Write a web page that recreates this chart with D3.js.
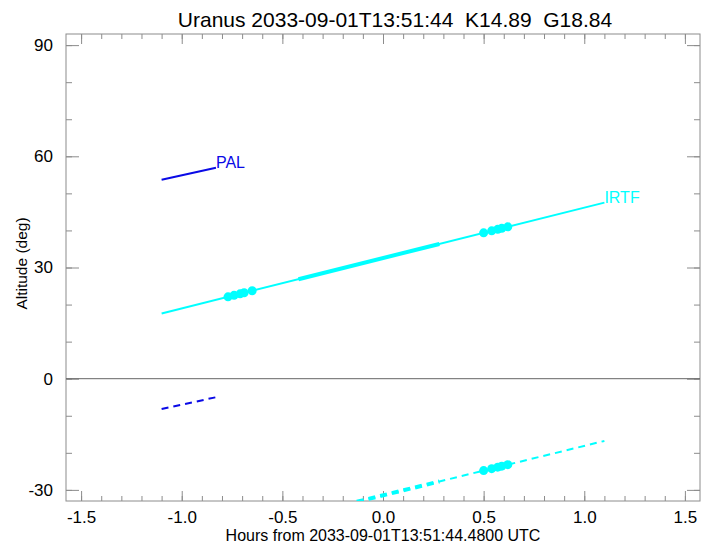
<!DOCTYPE html>
<html>
<head>
<meta charset="utf-8">
<script src="https://cdn.jsdelivr.net/npm/d3@7"></script>
<style>
  body { margin: 0; background: #fff; }
  svg { font-family: "Liberation Sans", Arial, sans-serif; }
</style>
</head>
<body>
<div id="chart"></div>
<script>
// data
const titleText = 'Uranus 2033-09-01T13:51:44  K14.89  G18.84';
const xLabel = 'Hours from 2033-09-01T13:51:44.4800 UTC';
const yLabel = 'Altitude (deg)';
const xTicks = [-1.5, -1.0, -0.5, 0.0, 0.5, 1.0, 1.5];
const yTicks = [-30, 0, 30, 60, 90];

const palHours = [-1.10, -0.83];
const palAlt = [53.7, 56.9];
const palDashAlt = [-8.2, -5.0];

const irtfHours = [-1.10, 1.10];
const irtfAlt = [17.6, 47.5];
const irtfDashHours = [-0.13, 1.10];
const irtfDashAlt = [-33.2, -16.8];
const irtfThick = [-0.42, 0.28];
const irtfDots = [-0.77, -0.74, -0.71, -0.69, -0.65, 0.50, 0.54, 0.57, 0.59, 0.62];

const margin = {top: 34, right: 10, bottom: 43, left: 66};
const width = 710 - margin.left - margin.right;
const height = 544 - margin.top - margin.bottom;
const axisColor = '#8c8c8c';

const svg = d3.select('#chart')
    .append('svg')
    .attr('width', 710)
    .attr('height', 544)
    .append('g')
    .attr('transform', `translate(${margin.left},${margin.top})`);

const x = d3.scaleLinear().domain([-1.575, 1.575]).range([0, width]);
const y = d3.scaleLinear().domain([-33, 93]).range([height, 0]);

svg.append('clipPath').attr('id', 'clip')
    .append('rect').attr('width', width).attr('height', height);

// Minor ticks
const xMinor = d3.range(-15, 16).map(d => d / 10);
const yMinor = d3.range(-30, 91, 10);

function styleAxis(g) {
    g.select('.domain').remove();
    g.selectAll('line').attr('stroke', axisColor);
    g.selectAll('text').attr('fill', '#000').style('font-size', '17px');
}

const fmtX = d => d.toFixed(1);
const fmtY = d => String(d);

svg.append('g').attr('transform', `translate(0,${height})`)
    .call(d3.axisBottom(x).tickValues(xMinor).tickSize(-5).tickFormat(''))
    .call(styleAxis);
svg.append('g')
    .call(d3.axisTop(x).tickValues(xMinor).tickSize(-5).tickFormat(''))
    .call(styleAxis);
svg.append('g').attr('transform', `translate(0,${height})`)
    .call(d3.axisBottom(x).tickValues(xTicks).tickSize(-10).tickPadding(10).tickFormat(fmtX))
    .call(styleAxis);
svg.append('g')
    .call(d3.axisTop(x).tickValues(xTicks).tickSize(-10).tickFormat(''))
    .call(styleAxis);

svg.append('g')
    .call(d3.axisLeft(y).tickValues(yMinor).tickSize(-6).tickFormat(''))
    .call(styleAxis);
svg.append('g').attr('transform', `translate(${width},0)`)
    .call(d3.axisRight(y).tickValues(yMinor).tickSize(-6).tickFormat(''))
    .call(styleAxis);
svg.append('g')
    .call(d3.axisLeft(y).tickValues(yTicks).tickSize(-13).tickPadding(13).tickFormat(fmtY))
    .call(styleAxis);
svg.append('g').attr('transform', `translate(${width},0)`)
    .call(d3.axisRight(y).tickValues(yTicks).tickSize(-13).tickFormat(''))
    .call(styleAxis);

// Frame
svg.append('rect')
    .attr('width', width).attr('height', height)
    .attr('fill', 'none').attr('stroke', axisColor).attr('stroke-width', 1);

// Zero line
svg.append('line')
    .attr('x1', 0).attr('x2', width)
    .attr('y1', y(0)).attr('y2', y(0))
    .attr('stroke', '#666').attr('stroke-width', 1);

const plot = svg.append('g').attr('clip-path', 'url(#clip)');
const line = d3.line().x(d => x(d[0])).y(d => y(d[1]));

// PAL
const palBlue = '#0a0ae6';
plot.append('path').datum(d3.zip(palHours, palAlt))
    .attr('d', line).attr('fill', 'none')
    .attr('stroke', palBlue).attr('stroke-width', 2);
plot.append('path').datum(d3.zip(palHours, palDashAlt))
    .attr('d', line).attr('fill', 'none')
    .attr('stroke', palBlue).attr('stroke-width', 2)
    .attr('stroke-dasharray', '7,5');

// IRTF
const cyan = '#00ffff';
const irtfAt = d3.scaleLinear().domain(irtfHours).range(irtfAlt);
const irtfDashAt = d3.scaleLinear().domain(irtfDashHours).range(irtfDashAlt);

plot.append('path').datum(d3.zip(irtfHours, irtfAlt))
    .attr('d', line).attr('fill', 'none')
    .attr('stroke', cyan).attr('stroke-width', 2);
plot.append('path').datum(irtfThick.map(h => [h, irtfAt(h)]))
    .attr('d', line).attr('fill', 'none')
    .attr('stroke', cyan).attr('stroke-width', 4);

plot.append('path').datum(d3.zip(irtfDashHours, irtfDashAlt))
    .attr('d', line).attr('fill', 'none')
    .attr('stroke', cyan).attr('stroke-width', 2)
    .attr('stroke-dasharray', '7,5');
plot.append('path').datum([irtfDashHours[0], irtfThick[1]].map(h => [h, irtfDashAt(h)]))
    .attr('d', line).attr('fill', 'none')
    .attr('stroke', cyan).attr('stroke-width', 4)
    .attr('stroke-dasharray', '7,5');

plot.selectAll('circle.solid')
    .data(irtfDots)
    .enter()
    .append('circle')
    .attr('cx', d => x(d))
    .attr('cy', d => y(irtfAt(d)))
    .attr('r', 4.5)
    .attr('fill', cyan);
plot.selectAll('circle.dash')
    .data(irtfDots.filter(d => d > 0))
    .enter()
    .append('circle')
    .attr('cx', d => x(d))
    .attr('cy', d => y(irtfDashAt(d)))
    .attr('r', 4.5)
    .attr('fill', cyan);

// Labels on lines
svg.append('text')
    .attr('x', x(palHours[1])).attr('y', y(palAlt[1]))
    .attr('fill', palBlue).style('font-size', '16px')
    .text('PAL');
svg.append('text')
    .attr('x', x(irtfHours[1])).attr('y', y(irtfAlt[1]))
    .attr('fill', cyan).style('font-size', '16px')
    .text('IRTF');

// Titles
svg.append('text')
    .attr('x', width / 2 + 12)
    .attr('y', -7)
    .attr('text-anchor', 'middle')
    .style('font-size', '21px')
    .style('white-space', 'pre')
    .text(titleText);

svg.append('text')
    .attr('x', width / 2)
    .attr('y', height + 40)
    .attr('text-anchor', 'middle')
    .style('font-size', '16px')
    .text(xLabel);

svg.append('text')
    .attr('transform', 'rotate(-90)')
    .attr('x', -(y(30) - 4))
    .attr('y', -39)
    .attr('text-anchor', 'middle')
    .style('font-size', '15.5px')
    .text(yLabel);
</script>
</body>
</html>
